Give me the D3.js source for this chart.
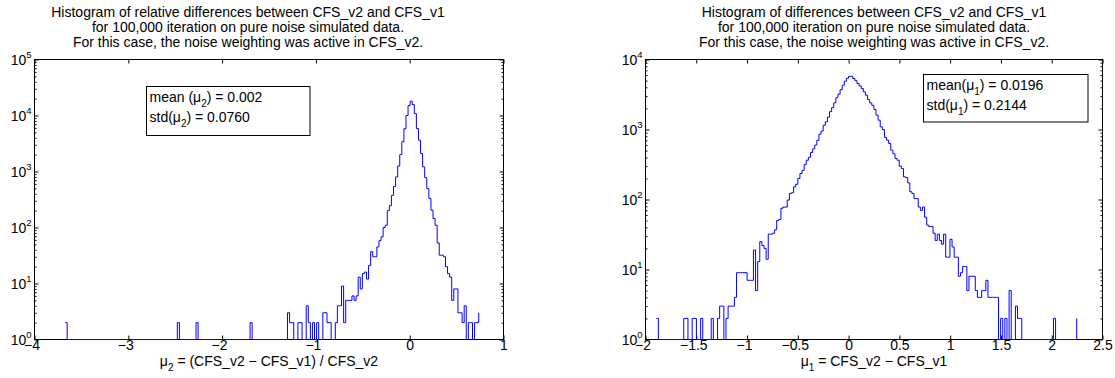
<!DOCTYPE html>
<html>
<head>
<meta charset="utf-8">
<script src="https://cdn.jsdelivr.net/npm/d3@7/dist/d3.min.js"></script>
<style>
  html, body { margin: 0; padding: 0; background: #fff; }
  svg { display: block; }
</style>
</head>
<body>
<svg id="fig" width="1115" height="378" font-family="Liberation Sans, Arial, Helvetica, sans-serif"></svg>
<script>
// ---- Relative differences mu2 = (CFS_v2 - CFS_v1) / CFS_v2 : 200-bin histogram ----
const relCentres = [-3.674, 0.736];          // first and last bin centre
const relCounts = [
  2,1,1,1,1,1,1,1,1,1,1,1,1,1,1,1,1,1,1,1,
  1,1,1,1,1,1,1,1,1,1,1,1,1,1,1,1,1,1,1,1,
  1,1,1,1,1,1,1,1,1,1,1,1,1,1,2,1,1,1,1,1,
  1,1,1,2,1,1,1,1,1,1,1,1,1,1,1,1,1,1,1,1,
  1,1,1,1,1,1,1,1,1,2,1,1,1,1,1,1,1,1,1,1,
  1,1,1,1,1,1,1,3,2,2,1,1,2,2,1,1,4,2,1,2,
  1,2,1,1,3,3,2,2,1,1,2,4,4,9,2,5,5,5,6,5,
  6,13,8,15,16,12,21,37,30,30,45,58,68,100,110,200,245,375,540,800,
  1250,2000,3400,5800,10000,15000,18000,15700,10800,5860,3630,2100,1210,780,497,330,204,145,110,53,
  32,32,30,20,15,13,5,8,8,3,3,2,4,1,2,2,1,2,2,3
];
const relXTicks = [-4, -3, -2, -1, 0, 1];
const relYTicks = [1, 10, 100, 1000, 10000, 100000];
const relTitle = [
  "Histogram of relative differences between CFS_v2 and CFS_v1",
  "for 100,000 iteration on pure noise simulated data.",
  "For this case, the noise weighting was active in CFS_v2."
];
const relXLabel = { sym: "\u03bc", sub: "2", rest: " = (CFS_v2 \u2212 CFS_v1) / CFS_v2" };
const relStats = [
  { pre: "mean (\u03bc", sub: "2", post: ") = 0.002" },
  { pre: "std(\u03bc", sub: "2", post: ") = 0.0760" }
];

// ---- Absolute differences mu1 = CFS_v2 - CFS_v1 : 200-bin histogram ----
const absCentres = [-1.894, 2.246];
const absCounts = [
  2,1,1,1,1,1,1,1,1,1,1,1,1,2,2,1,1,2,2,1,
  1,2,1,1,1,1,2,1,1,2,3,3,1,2,3,3,3,4,9,9,
  9,9,9,7,7,7,19,5,13,25,22,20,14,32,32,33,37,50,52,75,
  78,78,98,122,125,152,165,200,235,262,318,364,400,470,530,600,700,857,950,1150,
  1285,1500,1800,2050,2400,2850,3200,3700,4300,4900,5400,5700,5750,5350,5000,4540,4200,3850,3450,3090,
  2680,2400,2220,1930,1600,1360,1090,1000,770,704,631,506,450,385,364,299,277,211,206,173,
  129,122,103,103,78,70,78,56,43,41,41,33,26,32,26,23,32,15,15,27,
  21,15,15,8,9,11,11,5,8,8,8,5,4,4,5,5,7,4,4,4,
  4,4,1,2,1,2,1,5,1,1,3,2,2,1,1,1,1,1,1,1,
  1,1,1,1,1,1,1,1,2,1,1,1,1,1,1,1,1,1,1,2
];
const absXTicks = [-2, -1.5, -1, -0.5, 0, 0.5, 1, 1.5, 2, 2.5];
const absYTicks = [1, 10, 100, 1000, 10000];
const absTitle = [
  "Histogram of differences between CFS_v2 and CFS_v1",
  "for 100,000 iteration on pure noise simulated data.",
  "For this case, the noise weighting was active in CFS_v2."
];
const absXLabel = { sym: "\u03bc", sub: "1", rest: " = CFS_v2 \u2212 CFS_v1" };
const absStats = [
  { pre: "mean(\u03bc", sub: "1", post: ") = 0.0196" },
  { pre: "std(\u03bc", sub: "1", post: ") = 0.2144" }
];

const svg = d3.select("#fig");
const FS = 14;
const fmt = d3.format("~g");

function addSub(sel, pre, sub, post) {
  sel.append("tspan").text(pre);
  sel.append("tspan").attr("font-size", 10).attr("dy", 5).text(sub);
  sel.append("tspan").attr("dy", -5).text(post);
}

function panel(p) {
  const x = d3.scaleLinear().domain(p.xDomain).range([p.box.left, p.box.right]);
  const y = d3.scaleLog().domain(p.yDomain).range([p.box.bottom, p.box.top]);
  const g = svg.append("g").attr("font-size", FS);

  const n = p.counts.length;
  const step = (p.centres[1] - p.centres[0]) / (n - 1);
  const bins = p.counts.map((c, i) => ({ at: p.centres[0] + i * step, count: c }));

  const minor = y.ticks().filter(v => p.yTicks.indexOf(v) < 0);
  const tidy = s => {
    s.select(".domain").remove();
    s.attr("font-family", null).attr("font-size", FS);
    s.selectAll("line").attr("stroke", "#000");
  };

  // inward ticks on all four sides
  g.append("g").attr("transform", `translate(0,${p.box.bottom})`)
    .call(d3.axisBottom(x).tickValues(p.xTicks).tickSize(-4).tickSizeOuter(0)
      .tickPadding(1).tickFormat(fmt))
    .call(tidy)
    .call(s => s.selectAll("text").attr("fill", "#000").attr("dx", d => d < 0 ? -3 : 0));
  g.append("g").attr("transform", `translate(0,${p.box.top})`)
    .call(d3.axisTop(x).tickValues(p.xTicks).tickSize(-4).tickSizeOuter(0).tickFormat(""))
    .call(tidy);
  [[d3.axisLeft, p.box.left], [d3.axisRight, p.box.right]].forEach(([ax, pos]) => {
    g.append("g").attr("transform", `translate(${pos},0)`)
      .call(ax(y).tickValues(p.yTicks).tickSize(-4).tickSizeOuter(0).tickFormat(""))
      .call(tidy);
    g.append("g").attr("transform", `translate(${pos},0)`)
      .call(ax(y).tickValues(minor).tickSize(-2).tickSizeOuter(0).tickFormat(""))
      .call(tidy);
  });

  // 10^k labels
  const yl = g.selectAll("text.ylab").data(p.yTicks).join("text")
    .attr("class", "ylab")
    .attr("x", p.box.left - 3)
    .attr("y", d => y(d) + 5)
    .attr("text-anchor", "end")
    .attr("font-size", FS);
  yl.append("tspan").text("10");
  yl.append("tspan").attr("font-size", 9.5).attr("dy", -7).text(d => Math.round(Math.log10(d)));

  // frame
  g.append("rect")
    .attr("x", p.box.left).attr("y", p.box.top)
    .attr("width", p.box.right - p.box.left).attr("height", p.box.bottom - p.box.top)
    .attr("fill", "none").attr("stroke", "#000").attr("stroke-width", 1);

  // histogram as stairs
  const line = d3.line().curve(d3.curveStepAfter).x(d => x(d.at)).y(d => y(d.count));
  g.append("path").datum(bins).attr("d", line)
    .attr("fill", "none").attr("stroke", "#0000ff").attr("stroke-width", 1);

  // title
  g.selectAll("text.title").data(p.title).join("text")
    .attr("class", "title")
    .attr("x", p.titleX).attr("y", (d, i) => 16.5 + i * 15)
    .attr("text-anchor", "middle").attr("font-size", FS)
    .text(d => d);

  // x label
  const xl = g.append("text")
    .attr("x", (p.box.left + p.box.right) / 2).attr("y", 366)
    .attr("text-anchor", "middle").attr("font-size", FS);
  addSub(xl, p.xLabel.sym, p.xLabel.sub, p.xLabel.rest);

  // statistics box
  const sb = p.statsBox;
  g.append("rect").attr("x", sb.x).attr("y", sb.y).attr("width", sb.w).attr("height", sb.h)
    .attr("fill", "#fff").attr("stroke", "#000").attr("stroke-width", 1);
  p.stats.forEach((s, i) => {
    const t = g.append("text").attr("x", sb.x + 3).attr("y", sb.y + 15 + i * 20)
      .attr("font-size", FS);
    addSub(t, s.pre, s.sub, s.post);
  });
}

panel({
  counts: relCounts, centres: relCentres,
  xDomain: [-4, 1], xTicks: relXTicks,
  yDomain: [1, 100000], yTicks: relYTicks,
  box: { left: 34.5, right: 503.5, top: 59.5, bottom: 339.5 },
  title: relTitle, titleX: 248,
  xLabel: relXLabel,
  stats: relStats,
  statsBox: { x: 146.5, y: 86.5, w: 163.5, h: 49 }
});

panel({
  counts: absCounts, centres: absCentres,
  xDomain: [-2, 2.5], xTicks: absXTicks,
  yDomain: [1, 10000], yTicks: absYTicks,
  box: { left: 645.5, right: 1102.5, top: 59.5, bottom: 339.5 },
  title: absTitle, titleX: 874,
  xLabel: absXLabel,
  stats: absStats,
  statsBox: { x: 923.5, y: 74.5, w: 164.5, h: 47.5 }
});
</script>
</body>
</html>
